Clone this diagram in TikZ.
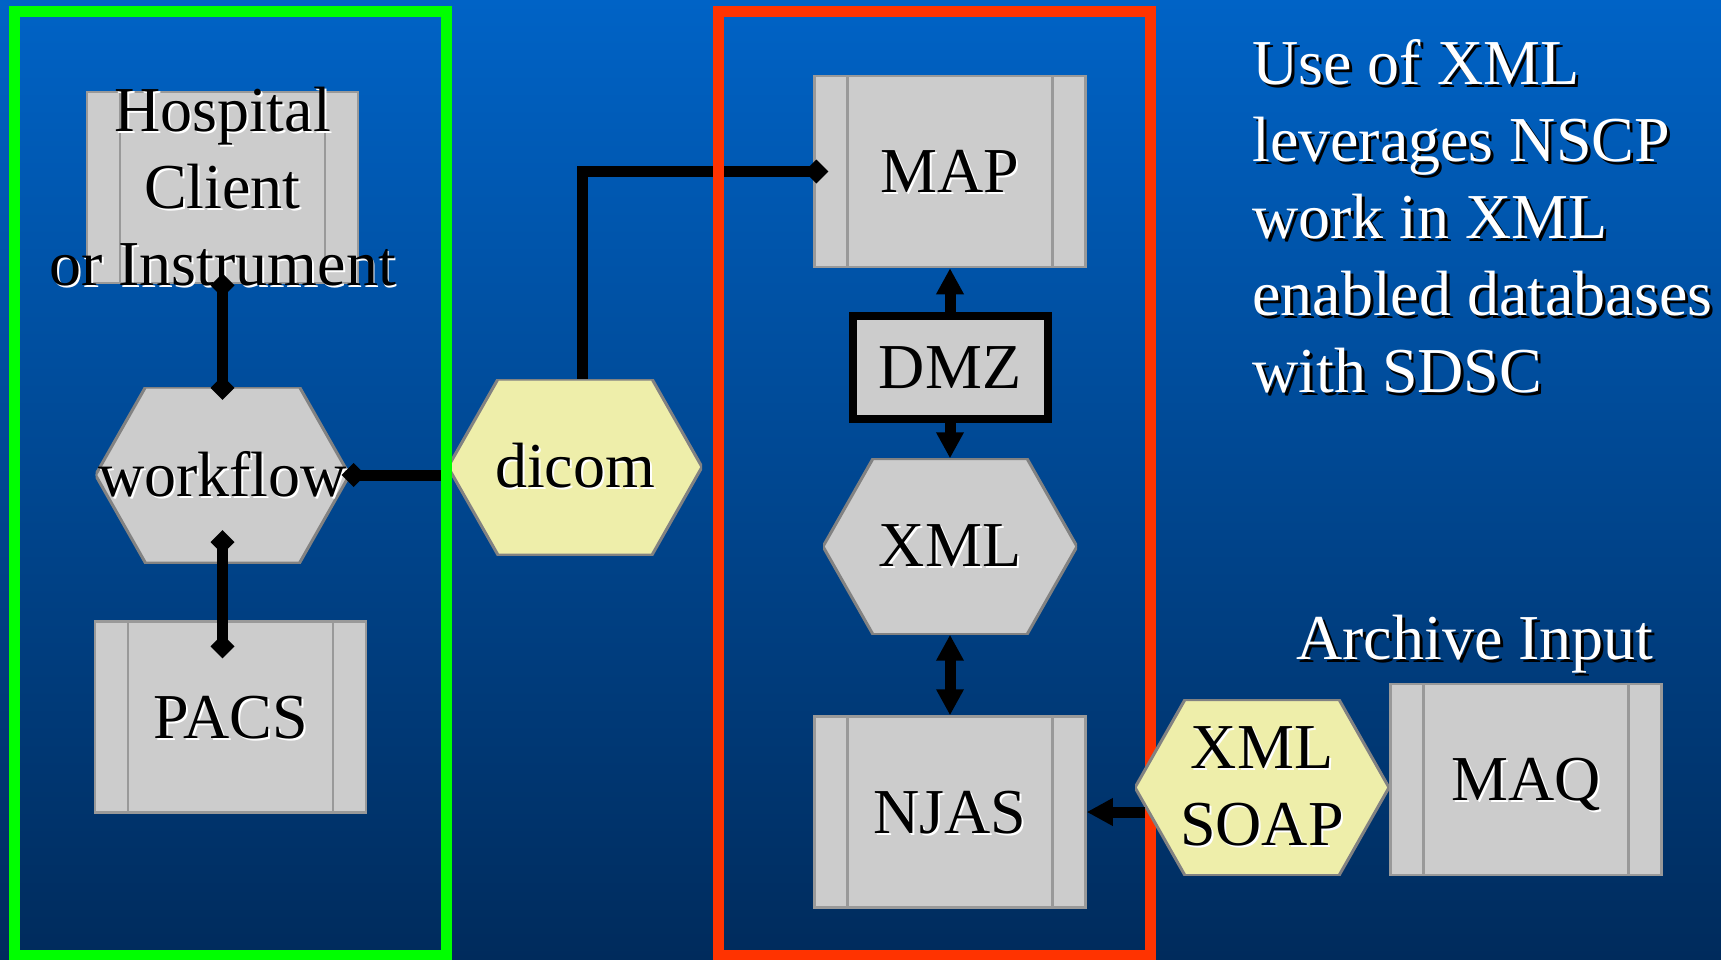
\documentclass[tikz,border=0pt]{standalone}
\usepackage{fontspec}
\setmainfont{Liberation Serif}
\usepackage{tikz}
\usetikzlibrary{arrows.meta}
\usepackage{xcolor}
\definecolor{bgtop}{RGB}{0,99,198}
\definecolor{bgbot}{RGB}{0,43,92}
\definecolor{boxgray}{RGB}{204,204,204}
\definecolor{boxline}{RGB}{153,153,153}
\definecolor{hexyellow}{RGB}{238,238,170}
\definecolor{hexline}{RGB}{130,130,130}
\definecolor{framegreen}{RGB}{0,255,0}
\definecolor{framered}{RGB}{255,51,0}
% text with a light / dark drop shadow
\newcommand{\wsh}[1]{\rlap{\kern2pt\raisebox{-2pt}{\color{white}#1}}#1}
\newcommand{\bsh}[1]{\rlap{\kern3pt\raisebox{-3pt}{\color{black}#1}}#1}

\begin{document}
\begin{tikzpicture}[x=1pt,y=-1pt,
        every node/.style={font=\fontsize{64}{77}\selectfont, inner sep=0pt},
        proc/.style={draw=boxline, line width=2.5pt, fill=boxgray,
            minimum width=271pt, minimum height=191pt, text height=42pt, text depth=0pt,
            path picture={
                \draw[boxline, line width=2.5pt] ([xshift=33pt]path picture bounding box.north west) -- ([xshift=33pt]path picture bounding box.south west);
                \draw[boxline, line width=2.5pt] ([xshift=-33pt]path picture bounding box.north east) -- ([xshift=-33pt]path picture bounding box.south east);}},
        hexa/.style={minimum width=254pt, minimum height=176pt,
            path picture={
                \filldraw[fill=#1, draw=hexline, line width=3pt] (path picture bounding box.west)
                -- ([xshift=50pt]path picture bounding box.north west) -- ([xshift=-50pt]path picture bounding box.north east)
                -- (path picture bounding box.east)
                -- ([xshift=-50pt]path picture bounding box.south east) -- ([xshift=50pt]path picture bounding box.south west) -- cycle;}},
        conn/.style={line width=11pt},
        frame/.style={line width=11pt},
        >={Triangle[length=26pt,width=26pt]},
        dm/.tip={Diamond[length=24pt,width=24pt]}]
        \useasboundingbox (0,0) rectangle (1721,959);
        \shade[top color=bgtop, bottom color=bgbot] (0,0) rectangle (1721,959);

        \node[proc] (hosp) at (222.5,187.5) {};
        \node[align=center] (hosptxt) at (hosp) {\wsh{Hospital}\\\wsh{Client}\\\wsh{or Instrument}};
        \node[hexa=boxgray] (wf) at (222.5,475) {\wsh{workflow}};
        \node[proc] (pacs) at (230.5,717) {\wsh{PACS}};
        \node[hexa=hexyellow] (dicom) at (575,467) {\wsh{dicom}};

        \node[proc] (map) at (950,171.5) {\wsh{MAP}};
        \node[draw=black, line width=8pt, fill=boxgray, minimum width=195pt, minimum height=103pt] (dmz) at (950,367.5) {DMZ};
        \node[hexa=boxgray] (xml) at (950,546.5) {\wsh{XML}};
        \node[proc] (njas) at (950,812) {\wsh{NJAS}};

        \draw[conn, dm-dm, shorten <=-11pt, shorten >=-13pt] (hosp.south) -- (hosp.south |- wf.north);
        \draw[conn, dm-dm, shorten <=-33pt, shorten >=-38pt] (wf.south) -- (wf.south |- pacs.north);
        \draw[conn, dm-, shorten <=-8pt] (wf.east) -- (wf.east -| dicom.west);
        \draw[conn, -dm, shorten >=-15pt] ([xshift=7pt]dicom.north) |- (map.west);
        \draw[conn, ->] (dmz) -- (map);
        \draw[conn, ->] (dmz) -- (xml);
        \draw[conn, <->] (xml) -- (njas);

        \draw[frame, draw=framegreen] (14.5,11.5) rectangle (446,955);
        \draw[frame, draw=framered] (718,11.5) rectangle (1150,955);

        \node[hexa=hexyellow, align=center] (soap) at (1262,787.5) {\wsh{XML}\\\wsh{SOAP}};
        \node[proc] (maq) at (1526,779.5) {\wsh{MAQ}};
        \draw[conn, ->] ([xshift=10pt]soap.west |- njas.east) -- (njas.east);

        \node[text=white, anchor=base] (archlbl) at (1475,659) {\bsh{Archive Input}};
        \node[text=white, anchor=north west, align=left] (note) at (1252,39)
            {\bsh{Use of XML}\\\bsh{leverages NSCP}\\\bsh{work in XML}\\\bsh{enabled databases}\\\bsh{with SDSC}};
\end{tikzpicture}
\end{document}
